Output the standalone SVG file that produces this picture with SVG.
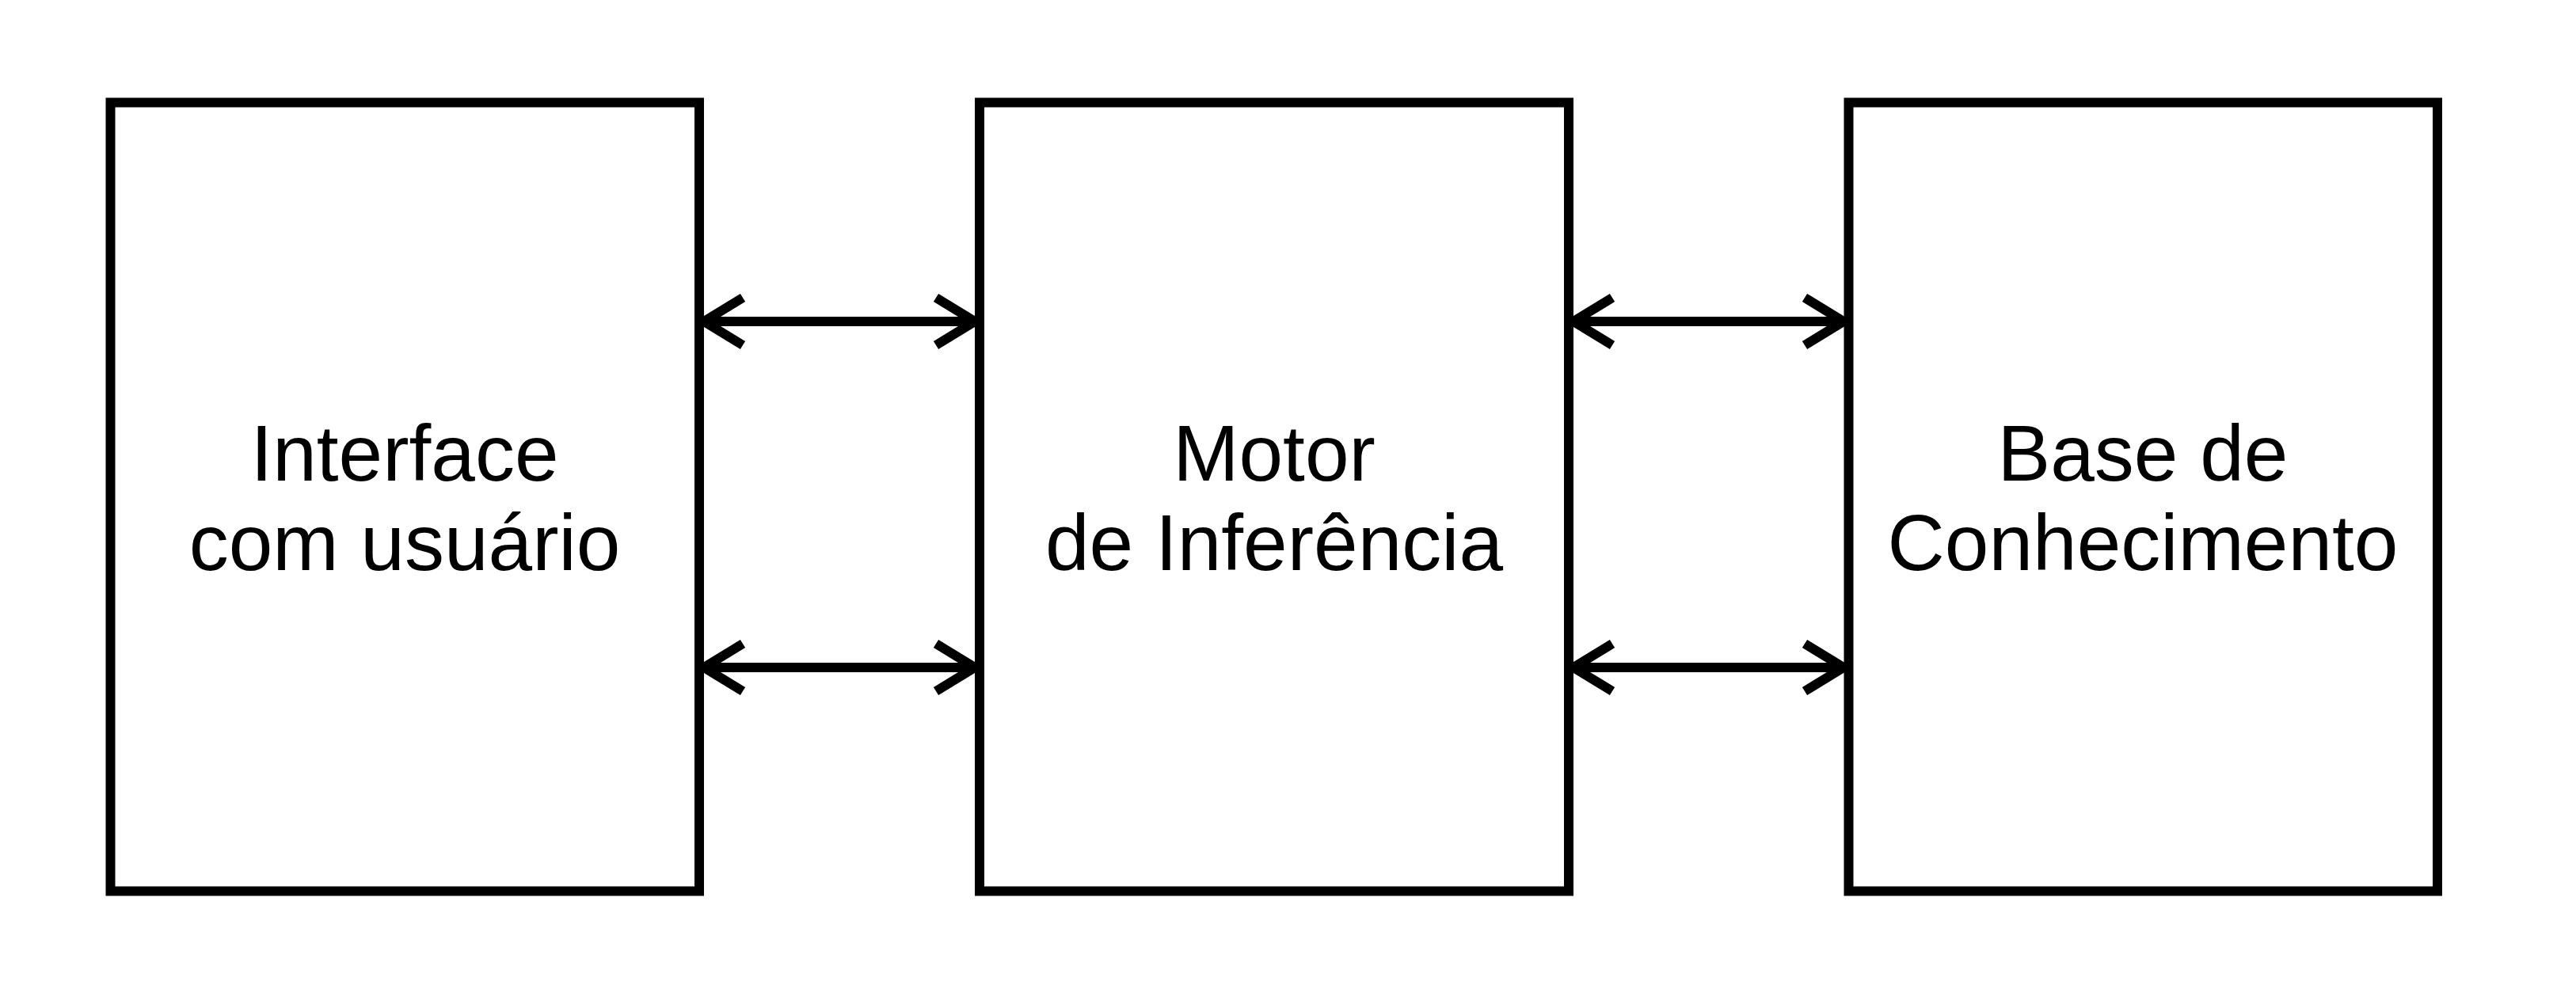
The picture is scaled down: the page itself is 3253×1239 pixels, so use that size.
<svg xmlns="http://www.w3.org/2000/svg" width="3253" height="1239" viewBox="0 0 3253 1239">
<style>
.box{fill:#fff;stroke:#000;stroke-width:12}
.lbl{font-family:"Liberation Sans",Arial,sans-serif;font-size:100px;fill:#000;text-anchor:middle}
.con{fill:none;stroke:#000;stroke-width:12}
</style>
<rect width="3253" height="1239" fill="#fff"/>
<g id="node-interface">
<rect class="box" x="139.5" y="129.5" width="743.5" height="996"/>
<text class="lbl" x="511" y="607">Interface</text>
<text class="lbl" x="511" y="720">com usuário</text>
</g>
<g id="node-motor">
<rect class="box" x="1237" y="129.5" width="744" height="996"/>
<text class="lbl" x="1609" y="607">Motor</text>
<text class="lbl" x="1609" y="720">de Inferência</text>
</g>
<g id="node-base">
<rect class="box" x="2334.5" y="129.5" width="743.5" height="996"/>
<text class="lbl" x="2706" y="607">Base de</text>
<text class="lbl" x="2706" y="720">Conhecimento</text>
</g>
<g id="connectors">
<path class="con" d="M889 406H1231M938 376L889 406L938 436M1182 376L1231 406L1182 436"/>
<path class="con" d="M889 843H1231M938 813L889 843L938 873M1182 813L1231 843L1182 873"/>
<path class="con" d="M1987 406H2328M2036 376L1987 406L2036 436M2279 376L2328 406L2279 436"/>
<path class="con" d="M1987 843H2328M2036 813L1987 843L2036 873M2279 813L2328 843L2279 873"/>
</g>
</svg>
